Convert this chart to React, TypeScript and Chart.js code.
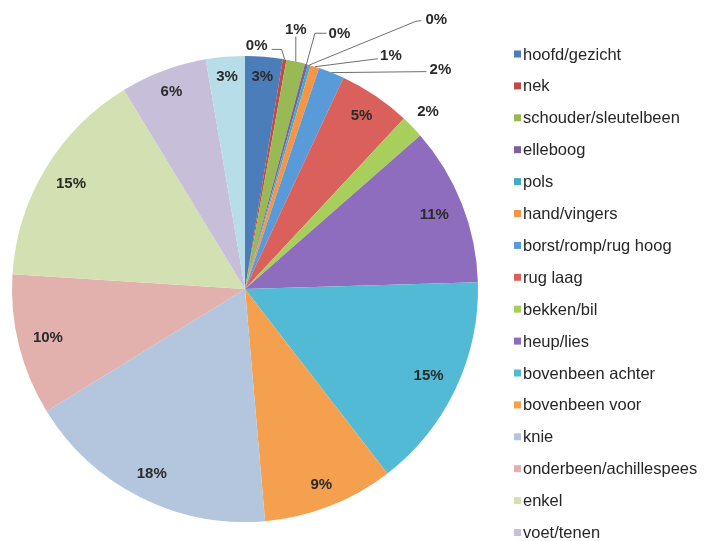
import React, { useEffect, useRef } from "react";
import { Chart, registerables } from "chart.js";

Chart.register(...registerables);

const categories = [
  "hoofd/gezicht",
  "nek",
  "schouder/sleutelbeen",
  "elleboog",
  "pols",
  "hand/vingers",
  "borst/romp/rug hoog",
  "rug laag",
  "bekken/bil",
  "heup/lies",
  "bovenbeen achter",
  "bovenbeen voor",
  "knie",
  "onderbeen/achillespees",
  "enkel",
  "voet/tenen",
  "overig",
];

const shares = [2.6, 0.25, 1.3, 0.2, 0.2, 0.6, 1.8, 5.0, 1.6, 11.0, 15.0, 9.1, 17.6, 9.8, 15.3, 6.0, 2.7];

const sliceColors = [
  "#4A7DBA",
  "#BE4B48",
  "#98B954",
  "#7D5FA0",
  "#46AAC5",
  "#F69545",
  "#599AD8",
  "#D9605B",
  "#A8CF5C",
  "#8E6DBE",
  "#52BAD4",
  "#F5A04F",
  "#B4C6DE",
  "#E2B1AE",
  "#D3E0B2",
  "#C7BEDA",
  "#B7DEE8",
];

// Label styling (not data): callout leader lines for the tiniest slices,
// offsets relative to the point on the slice's outer edge at its mid-angle.
const calloutStyle: Record<number, { line: number[][]; text: number[] }> = {
  1: { line: [[0, 0], [-3, -10], [-13, -10]], text: [-28, -14] },
  2: { line: [[0, 0], [0, -25]], text: [0, -32] },
  3: { line: [[0, 0], [8.5, -31], [20, -31]], text: [33, -30] },
  4: { line: [[0, 0], [106, -43.5], [112, -44.5]], text: [127, -45] },
  5: { line: [[0, 0], [63, -8]], text: [76, -11] },
  6: { line: [[0, 0], [95, -1]], text: [109, -3] },
};

const FONT = '"Liberation Sans", Arial, sans-serif';

const labelPlugin = {
  id: "pieLabels",
  afterDatasetsDraw(chart: any) {
    const ctx = chart.ctx;
    const meta = chart.getDatasetMeta(0);
    const values: number[] = chart.data.datasets[0].data;
    const total = values.reduce((a, b) => a + b, 0);
    ctx.save();
    ctx.textAlign = "center";
    ctx.textBaseline = "middle";
    meta.data.forEach((arc: any, i: number) => {
      const { x, y, startAngle, endAngle, outerRadius } = arc.getProps(
        ["x", "y", "startAngle", "endAngle", "outerRadius"],
        true
      );
      const mid = (startAngle + endAngle) / 2;
      const pct = Math.round((values[i] / total) * 100) + "%";
      const cos = Math.cos(mid);
      const sin = Math.sin(mid);
      ctx.font = "bold 15px " + FONT;
      ctx.fillStyle = "#2a2a2a";
      const call = calloutStyle[i];
      if (call) {
        const ex = x + outerRadius * cos;
        const ey = y + outerRadius * sin;
        ctx.strokeStyle = "#6e6e6e";
        ctx.lineWidth = 1;
        ctx.beginPath();
        call.line.forEach((p, k) => {
          if (k === 0) ctx.moveTo(ex + p[0], ey + p[1]);
          else ctx.lineTo(ex + p[0], ey + p[1]);
        });
        ctx.stroke();
        ctx.fillText(pct, ex + call.text[0], ey + call.text[1]);
      } else if (values[i] / total < 0.025) {
        const d = outerRadius + 22;
        ctx.fillText(pct, x + d * cos, y + d * sin);
      } else {
        const w = ctx.measureText(pct).width;
        const h = 11;
        const d = outerRadius - 14 - (Math.abs(cos) * w) / 2 - (Math.abs(sin) * h) / 2;
        ctx.fillText(pct, x + d * cos, y + d * sin);
      }
    });
    ctx.restore();
  },
  afterDraw(chart: any) {
    const ctx = chart.ctx;
    const labels: string[] = chart.data.labels;
    const colors: string[] = chart.data.datasets[0].backgroundColor;
    ctx.save();
    ctx.font = "16.5px " + FONT;
    ctx.textAlign = "left";
    ctx.textBaseline = "middle";
    labels.forEach((lab, i) => {
      const yy = 54 + i * 31.9;
      if (yy > chart.height - 4) return;
      ctx.fillStyle = colors[i];
      ctx.fillRect(514, yy - 3.5, 7, 7);
      ctx.fillStyle = "#262626";
      ctx.fillText(lab, 523, yy + 1);
    });
    ctx.restore();
  },
};

export default function App() {
  const ref = useRef<HTMLCanvasElement | null>(null);
  useEffect(() => {
    if (!ref.current) return;
    const chart = new Chart(ref.current, {
      type: "pie",
      data: {
        labels: categories,
        datasets: [
          {
            data: shares,
            backgroundColor: sliceColors,
            borderWidth: 0,
          },
        ],
      },
      options: {
        responsive: false,
        animation: false,
        devicePixelRatio: 1,
        layout: { padding: { left: 12, top: 56, right: 228, bottom: 19 } },
        plugins: {
          legend: { display: false },
          tooltip: { enabled: false },
        },
      },
      plugins: [labelPlugin],
    });
    return () => chart.destroy();
  }, []);
  return (
    <div style={{ position: "absolute", left: 0, top: 0, width: 706, height: 541, background: "#fff" }}>
      <canvas ref={ref} width={706} height={541} />
    </div>
  );
}
